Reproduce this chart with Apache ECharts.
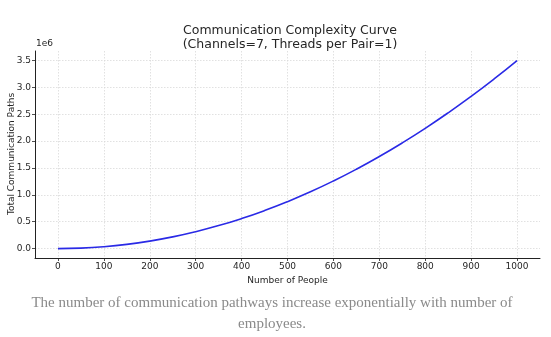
<!DOCTYPE html>
<html>
<head>
<meta charset="utf-8">
<script src="https://cdn.jsdelivr.net/npm/echarts@6/dist/echarts.min.js"></script>
<style>
  html, body { margin: 0; padding: 0; background: #ffffff; }
  #chart { width: 551px; height: 337px; }
</style>
</head>
<body>
<div id="chart"></div>
<script>
// Number of people (x) and total communication paths (y)
const people = [0, 50, 100, 150, 200, 250, 300, 350, 400, 450, 500,
                550, 600, 650, 700, 750, 800, 850, 900, 950, 1000];
const paths = [0, 8600, 34700, 78200, 139300, 217900, 314000, 427500, 558600, 707200, 873300,
               1056800, 1257900, 1476500, 1712600, 1966100, 2237200, 2525800, 2831900, 3155400, 3496500];

const xTicks = [0, 100, 200, 300, 400, 500, 600, 700, 800, 900, 1000];
const yTicks = [0, 500000, 1000000, 1500000, 2000000, 2500000, 3000000, 3500000];

const chartTitle = 'Communication Complexity Curve\n(Channels=7, Threads per Pair=1)';
const yAxisTitle = 'Total Communication Paths';
const caption = 'The number of communication pathways increase exponentially with number of\nemployees.';

const chart = echarts.init(document.getElementById('chart'), null, { renderer: 'canvas' });

const axisFont = { fontFamily: 'DejaVu Sans', fontSize: 9, color: '#262626' };
const gridLineStyle = { color: '#d9d9d9', width: 0.8, type: [1.5, 1.5] };

chart.setOption({
  animation: false,
  backgroundColor: '#ffffff',
  title: [
    {
      text: chartTitle,
      left: 285, top: 19, textAlign: 'center',
      textStyle: { fontFamily: 'DejaVu Sans', fontSize: 12.5, fontWeight: 'normal', color: '#262626', lineHeight: 14 }
    },
    {
      text: caption,
      left: 267, top: 288, textAlign: 'center',
      textStyle: { fontFamily: 'Liberation Serif', fontSize: 15, fontWeight: 'normal', color: '#8a8a8a', lineHeight: 21 }
    }
  ],
  graphic: [
    { type: 'text', left: 36, top: 39, style: { text: '1e6', font: '9px "DejaVu Sans"', fill: '#262626' } },
    {
      type: 'text', x: 12, y: 154, rotation: Math.PI / 2,
      style: { text: yAxisTitle, font: '9px "DejaVu Sans"', fill: '#262626', align: 'center', verticalAlign: 'middle' }
    }
  ],
  grid: { left: 35, top: 51, width: 505, height: 207, containLabel: false, outerBoundsMode: 'none' },
  xAxis: {
    type: 'value',
    min: -50, max: 1050,
    name: 'Number of People',
    nameLocation: 'middle',
    nameGap: 15,
    nameTextStyle: axisFont,
    axisLine: { show: true, onZero: false, lineStyle: { color: '#222', width: 1 } },
    axisTick: { show: true, length: 3, lineStyle: { color: '#222', width: 0.8 }, customValues: xTicks },
    axisLabel: { ...axisFont, margin: 4, customValues: xTicks, formatter: v => String(v) },
    splitLine: { show: true, lineStyle: gridLineStyle }
  },
  yAxis: {
    type: 'value',
    min: -175000, max: 3675000,
    axisLine: { show: true, onZero: false, lineStyle: { color: '#222', width: 1 } },
    axisTick: { show: true, length: 3, lineStyle: { color: '#222', width: 0.8 }, customValues: yTicks },
    axisLabel: { ...axisFont, margin: 4, customValues: yTicks, formatter: v => (v / 1e6).toFixed(1) },
    splitLine: { show: true, lineStyle: gridLineStyle }
  },
  series: [
    {
      type: 'line',
      data: people.map((p, i) => [p, paths[i]]),
      smooth: true,
      showSymbol: false,
      lineStyle: { color: '#2a2ae6', width: 1.6 },
      itemStyle: { color: '#2a2ae6' }
    }
  ]
});
</script>
</body>
</html>
